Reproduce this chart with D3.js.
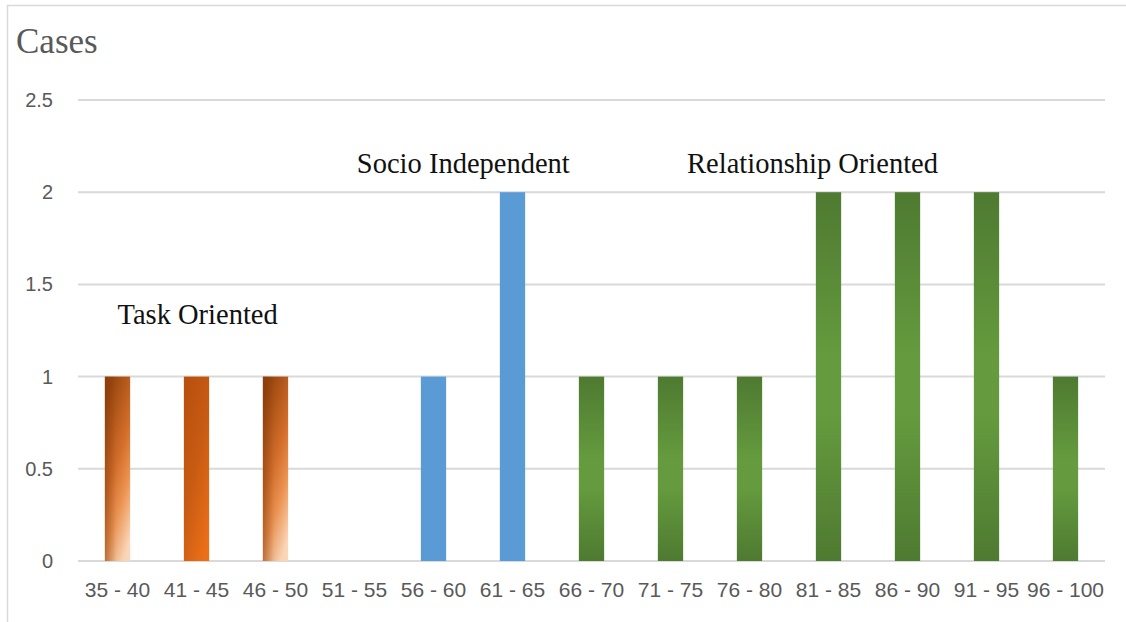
<!DOCTYPE html>
<html>
<head>
<meta charset="utf-8">
<script src="https://cdn.jsdelivr.net/npm/d3@7"></script>
<style>
  body { margin: 0; background: #fff; }
  svg { display: block; }
</style>
</head>
<body>
<svg width="1126" height="622"></svg>
<script>
// data
var categories = ["35 - 40", "41 - 45", "46 - 50", "51 - 55", "56 - 60", "61 - 65", "66 - 70",
                  "71 - 75", "76 - 80", "81 - 85", "86 - 90", "91 - 95", "96 - 100"];
var cases = [1, 1, 1, 0, 1, 2, 1, 1, 1, 2, 2, 2, 1];
var groups = ["task2", "task1", "task2", "socio", "socio", "socio", "rel",
              "rel", "rel", "rel", "rel", "rel", "rel"];
var yTicks = [0, 0.5, 1, 1.5, 2, 2.5];
// labels: pos = category index where the text starts, y = value of baseline
var notes = [
  {text: "Task Oriented", pos: 0, y: 1.285},
  {text: "Socio Independent", pos: 3.03, y: 2.104},
  {text: "Relationship Oriented", pos: 7.21, y: 2.104}
];

var svg = d3.select("svg");
var margin = {top: 100, right: 21, bottom: 61, left: 78},
    width = 1126 - margin.left - margin.right,
    height = 622 - margin.top - margin.bottom;

var x = d3.scaleBand().domain(categories).range([0, width]).paddingInner(0.68).paddingOuter(0.34);
var y = d3.scaleLinear().domain([0, 2.5]).range([height, 0]);
// category index -> slot centre, for the free text labels
var xi = d3.scaleLinear().domain([0, 1]).range([x.step() / 2, x.step() * 1.5]);

// gradients
var defs = svg.append("defs");
function grad(id, x1, y1, x2, y2, stops) {
  var g = defs.append("linearGradient").attr("id", id)
      .attr("x1", x1).attr("y1", y1).attr("x2", x2).attr("y2", y2);
  stops.forEach(function(s) {
    g.append("stop").attr("offset", s[0]).attr("stop-color", s[1]).attr("stop-opacity", s[2] == null ? 1 : s[2]);
  });
}
grad("task2", "0.3", "0", "0.7", "1", [[0, "#9a470e"], [0.45, "#d56f2c"], [0.7, "#ee9452"], [1, "#fbd7b8"]]);
grad("task2shade", "0", "0", "1", "0", [[0, "#7a3508", 0.45], [0.45, "#7a3508", 0.05], [1, "#7a3508", 0]]);
grad("task1", "0.2", "0", "0.8", "1", [[0, "#b9500f"], [0.5, "#c95c13"], [1, "#ec6f18"]]);
grad("rel", "0", "0", "0", "1", [[0, "#4e7a31"], [0.45, "#659b3e"], [0.6, "#659b3e"], [1, "#4e7a31"]]);

var fills = {task2: "url(#task2)", task1: "url(#task1)", socio: "#5b9bd5", rel: "url(#rel)"};

// outer frame (cropped on right and bottom)
svg.append("path")
    .attr("d", "M7.5,640V5.5H1140")
    .attr("fill", "none")
    .attr("stroke", "#d9d9d9")
    .attr("stroke-width", 1.5);

svg.append("text")
    .attr("x", 16).attr("y", 53)
    .attr("fill", "#595959")
    .style("font-family", "'Liberation Serif', serif")
    .style("font-size", "35px")
    .text("Cases");

var g = svg.append("g").attr("transform", "translate(" + margin.left + "," + margin.top + ")");

// gridlines
g.selectAll(".grid")
  .data(yTicks)
  .enter().append("line")
    .attr("x1", 0).attr("x2", width)
    .attr("y1", function(d) { return y(d); })
    .attr("y2", function(d) { return y(d); })
    .attr("stroke", "#d9d9d9")
    .attr("stroke-width", 2);

var yAxis = g.append("g").call(d3.axisLeft(y).tickValues(yTicks).tickSize(0).tickPadding(25).tickFormat(d3.format("")));
yAxis.select(".domain").remove();
yAxis.selectAll("text")
    .attr("fill", "#595959")
    .style("font-family", "'Liberation Sans', sans-serif")
    .style("font-size", "20px");

var xAxis = g.append("g")
    .attr("transform", "translate(0," + height + ")")
    .call(d3.axisBottom(x).tickSize(0).tickPadding(21));
xAxis.select(".domain").remove();
xAxis.selectAll("text")
    .attr("fill", "#595959")
    .style("font-family", "'Liberation Sans', sans-serif")
    .style("font-size", "21px");

var bars = g.selectAll(".bar")
  .data(categories.map(function(c, i) { return {cat: c, v: cases[i], grp: groups[i]}; }))
  .enter();

bars.append("rect")
    .attr("class", "bar")
    .attr("x", function(d) { return x(d.cat); })
    .attr("y", function(d) { return y(d.v); })
    .attr("width", x.bandwidth())
    .attr("height", function(d) { return height - y(d.v); })
    .attr("fill", function(d) { return fills[d.grp]; });

// left side shading on the two lighter orange bars
bars.filter(function(d) { return d.grp == "task2"; })
  .append("rect")
    .attr("x", function(d) { return x(d.cat); })
    .attr("y", function(d) { return y(d.v); })
    .attr("width", x.bandwidth())
    .attr("height", function(d) { return height - y(d.v); })
    .attr("fill", "url(#task2shade)");

g.selectAll(".note")
  .data(notes)
  .enter().append("text")
    .attr("x", function(d) { return xi(d.pos); })
    .attr("y", function(d) { return y(d.y); })
    .attr("fill", "#111")
    .style("font-family", "'Liberation Serif', serif")
    .style("font-size", "28.5px")
    .text(function(d) { return d.text; });
</script>
</body>
</html>
